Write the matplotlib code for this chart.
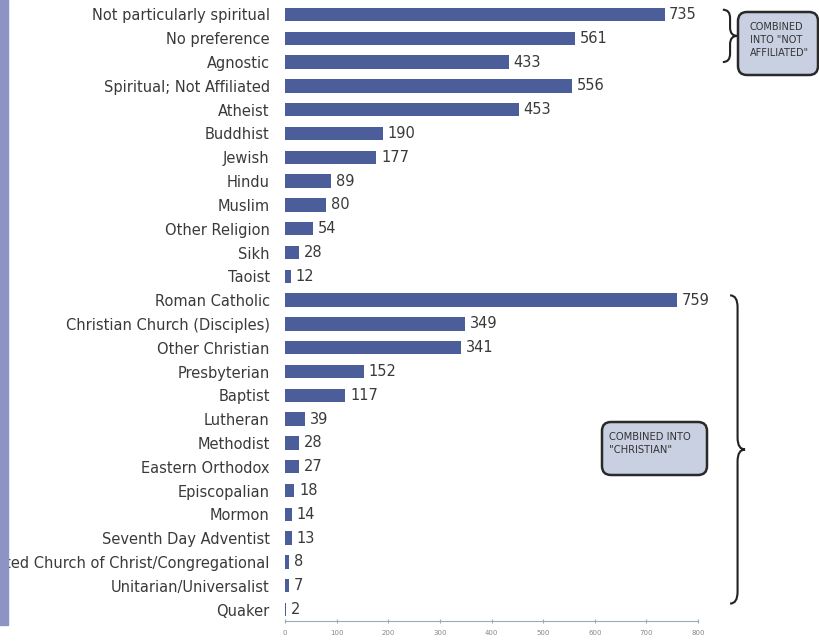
import numpy as np
import matplotlib.pyplot as plt
from matplotlib.path import Path
from matplotlib.patches import PathPatch, Rectangle, FancyBboxPatch

# data
religions = ['Not particularly spiritual', 'No preference', 'Agnostic',
             'Spiritual; Not Affiliated', 'Atheist', 'Buddhist', 'Jewish',
             'Hindu', 'Muslim', 'Other Religion', 'Sikh', 'Taoist',
             'Roman Catholic', 'Christian Church (Disciples)', 'Other Christian',
             'Presbyterian', 'Baptist', 'Lutheran', 'Methodist',
             'Eastern Orthodox', 'Episcopalian', 'Mormon',
             'Seventh Day Adventist',
             'United Church of Christ/Congregational',
             'Unitarian/Universalist', 'Quaker']
counts = [735, 561, 433, 556, 453, 190, 177, 89, 80, 54, 28, 12,
          759, 349, 341, 152, 117, 39, 28, 27, 18, 14, 13, 8, 7, 2]
x_ticks = [0, 100, 200, 300, 400, 500, 600, 700, 800]

bar_color = '#4b5e99'
text_color = '#3a3a3a'

fig = plt.figure(figsize=(8.2, 6.42), dpi=100)
ax = fig.add_axes([0.3476, 0.032, 0.5037, 0.964])

y = np.arange(len(religions))
ax.barh(y, counts, height=0.56, color=bar_color)
for yi, v in zip(y, counts):
    ax.text(v + 9, yi, str(v), va='center', ha='left', fontsize=10.5,
            color=text_color)

ax.set_ylim(len(religions) - 0.5, -0.5)
ax.set_xlim(0, 800)
ax.set_yticks(y)
ax.set_yticklabels(religions, fontsize=10.5, color=text_color)
ax.set_xticks(x_ticks)
ax.set_xticklabels([str(t) for t in x_ticks], fontsize=5, color='#888888')
ax.tick_params(axis='y', length=0, pad=11)
ax.tick_params(axis='x', length=3, direction='inout', color='#9aaabb', pad=5)
for s in ['top', 'right', 'left']:
    ax.spines[s].set_visible(False)
ax.spines['bottom'].set_color('#9aaabb')


def brace(ax, x0, ya, yb, w, h):
    # curly brace opening to the left, tip pointing right
    ym = (ya + yb) / 2
    xm = x0 + w / 2
    verts = [(x0, ya), (xm, ya), (xm, ya + h),
             (xm, ym - h), (xm, ym), (x0 + w, ym),
             (xm, ym), (xm, ym + h),
             (xm, yb - h), (xm, yb), (x0, yb)]
    codes = [Path.MOVETO, Path.CURVE3, Path.CURVE3,
             Path.LINETO, Path.CURVE3, Path.CURVE3,
             Path.CURVE3, Path.CURVE3,
             Path.LINETO, Path.CURVE3, Path.CURVE3]
    ax.add_patch(PathPatch(Path(verts, codes), fill=False, lw=1.5,
                           color='#222222', clip_on=False))


brace(ax, 848, -0.2, 2.0, 28, 0.35)
brace(ax, 862, 11.8, 24.75, 29, 0.5)


def note(x, y, w, h, lines, size, dx, dy):
    # rounded box in inches from the bottom-left corner, text at its top-left
    fig.patches.append(FancyBboxPatch((x, y), w, h, boxstyle='round,pad=0,rounding_size=0.09',
                                      transform=fig.dpi_scale_trans, fc='#c9d0e2',
                                      ec='#2a2a2a', lw=1.8))
    fig.text(x + dx, y + h - dy, lines, transform=fig.dpi_scale_trans,
             fontsize=size, color='#333333', ha='left', va='top', linespacing=1.4)


note(7.38, 5.67, 0.80, 0.63, 'COMBINED\nINTO "NOT\nAFFILIATED"', 7.0, 0.12, 0.10)
note(6.02, 1.67, 1.05, 0.53, 'COMBINED INTO\n"CHRISTIAN"', 7.2, 0.07, 0.10)

# blue strip on the left edge
fig.patches.append(Rectangle((0, 0.027), 0.0098, 0.973, transform=fig.transFigure,
                             color='#8b94c4', zorder=0))

fig.savefig('out.png', dpi=100)
